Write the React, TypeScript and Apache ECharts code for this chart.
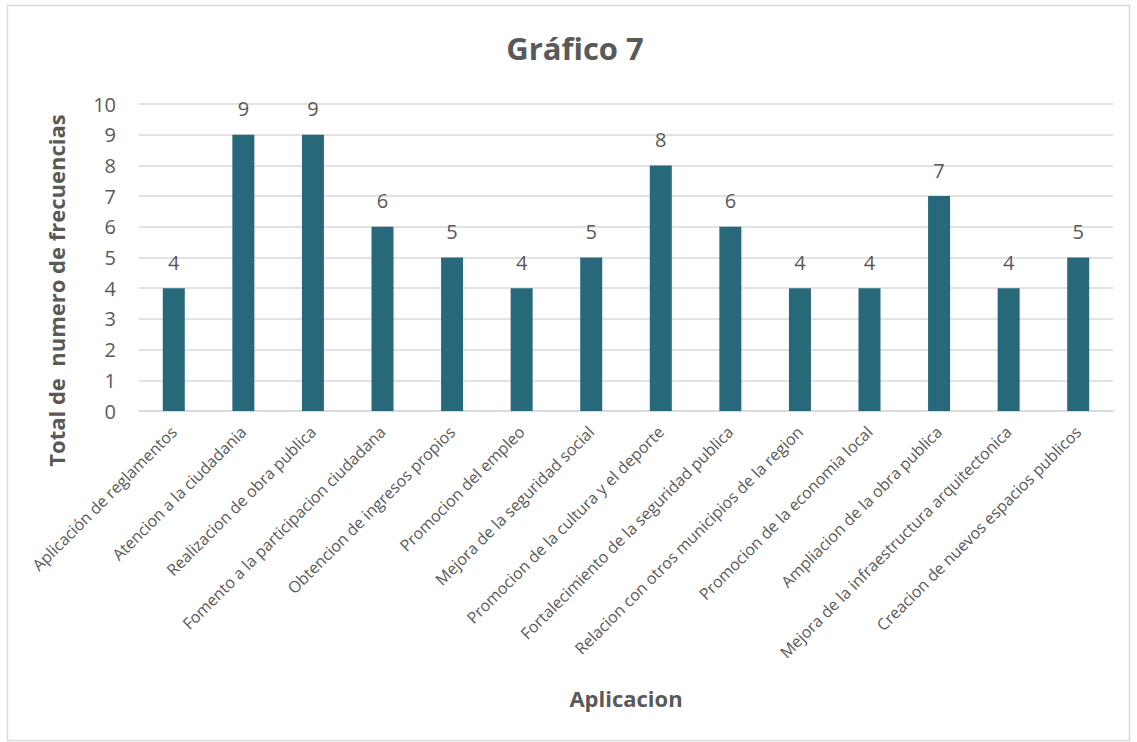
import React, { useEffect, useRef } from "react";
import * as echarts from "echarts";

const categories = [
  "Aplicación de reglamentos",
  "Atencion a la ciudadania",
  "Realizacion de obra publica",
  "Fomento a la participacion ciudadana",
  "Obtencion de ingresos propios",
  "Promocion del empleo",
  "Mejora de la seguridad social",
  "Promocion de la cultura y el deporte",
  "Fortalecimiento de la seguridad publica",
  "Relacion con otros municipios de la region",
  "Promocion de la economia local",
  "Ampliacion de la obra publica",
  "Mejora de la infraestructura arquitectonica",
  "Creacion de nuevos espacios publicos",
];
const values = [4, 9, 9, 6, 5, 4, 5, 8, 6, 4, 4, 7, 4, 5];

const TEXT = "#595959";
const FONT = "'Open Sans', 'Noto Sans', sans-serif";

export default function App() {
  const ref = useRef<HTMLDivElement>(null);
  useEffect(() => {
    if (!ref.current) return;
    const chart = echarts.init(ref.current, undefined, { renderer: "svg" });
    chart.setOption({
      animation: false,
      backgroundColor: "#ffffff",
      textStyle: { fontFamily: FONT },
      title: {
        text: "Gráfico 7",
        left: 570,
        top: 27,
        textAlign: "center",
        textStyle: { fontSize: 31, fontWeight: "bold", color: TEXT, fontFamily: FONT },
      },
      graphic: [
        {
          type: "rect",
          shape: { x: 7.5, y: 5.5, width: 1122, height: 735 },
          style: { fill: "none", stroke: "#D9D9D9", lineWidth: 1.5 },
          silent: true,
        },
      ],
      grid: { left: 139, right: 24, top: 104, bottom: 331, containLabel: false },
      xAxis: {
        type: "category",
        data: categories,
        name: "Aplicacion",
        nameLocation: "middle",
        nameGap: 276,
        nameTextStyle: { fontSize: 22, fontWeight: "bold", color: TEXT, fontFamily: FONT },
        axisLine: { lineStyle: { color: "#D9D9D9", width: 1.5 } },
        axisTick: { show: false },
        axisLabel: {
          rotate: 45,
          interval: 0,
          fontSize: 16,
          color: TEXT,
          margin: 18,
          fontFamily: FONT,
        },
      },
      yAxis: {
        type: "value",
        min: 0,
        max: 10,
        interval: 1,
        name: "Total de  numero de frecuencias",
        nameLocation: "middle",
        nameGap: 72,
        nameTextStyle: {
          fontSize: 22,
          fontWeight: "bold",
          color: TEXT,
          fontFamily: FONT,
          padding: [0, 66, 0, 0],
        },
        axisLine: { show: false },
        axisTick: { show: false },
        axisLabel: { fontSize: 20, color: TEXT, margin: 23, fontFamily: FONT },
        splitLine: { lineStyle: { color: "#D9D9D9", width: 1.5 } },
      },
      series: [
        {
          type: "bar",
          data: values,
          barWidth: 22,
          itemStyle: { color: "#27697A" },
          label: {
            show: true,
            position: "top",
            distance: 16,
            fontSize: 20,
            color: TEXT,
            fontFamily: FONT,
          },
        },
      ],
    });
    return () => chart.dispose();
  }, []);
  return (
    <div
      ref={ref}
      style={{ position: "fixed", left: 0, top: 0, width: 1137, height: 742 }}
    />
  );
}
